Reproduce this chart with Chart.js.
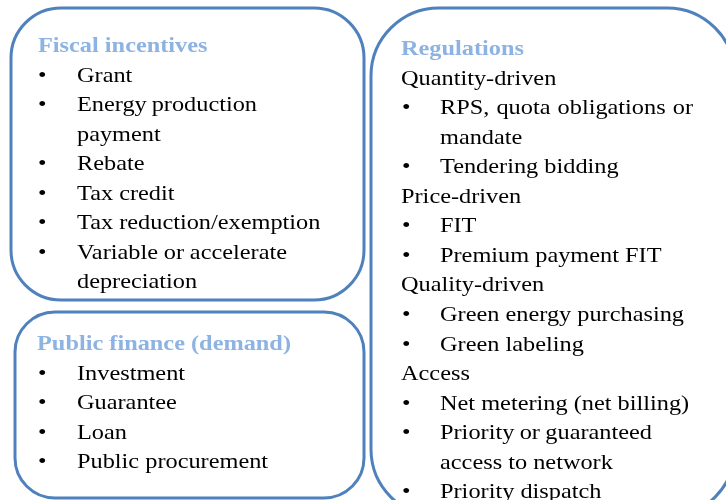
<!DOCTYPE html>
<html>
<head>
<meta charset="utf-8">
<script src="https://cdn.jsdelivr.net/npm/chart.js@4/dist/chart.umd.min.js"></script>
<style>
html,body{margin:0;padding:0;background:#fff;}
#wrap{width:726px;height:500px;}
</style>
</head>
<body>
<div id="wrap"><canvas id="c" width="726" height="500"></canvas></div>
<script>
// ---- content ----
const fiscalTitle = 'Fiscal incentives';
const fiscalItems = ['Grant', ['Energy production', 'payment'], 'Rebate', 'Tax credit', 'Tax reduction/exemption', ['Variable or accelerate', 'depreciation']];
const financeTitle = 'Public finance (demand)';
const financeItems = ['Investment', 'Guarantee', 'Loan', 'Public procurement'];
const regTitle = 'Regulations';
const regGroups = ['Quantity-driven', 'Price-driven', 'Quality-driven', 'Access'];
const regItems = [
  [['RPS, quota obligations or', 'mandate'], 'Tendering bidding'],
  ['FIT', 'Premium payment FIT'],
  ['Green energy purchasing', 'Green labeling'],
  ['Net metering (net billing)', ['Priority or guaranteed', 'access to network'], 'Priority dispatch']
];

// ---- layout (plot coordinates) ----
const BORDER = '#4F81BD';
const TITLE_COLOR = '#8DB3E2';
const FONT = '"Liberation Serif", "Times New Roman", serif';
const FS = 21;
const SX = 1.158;   // horizontal stretch of the text
const LINE = 29.55;
const boxes = [
  {x0: 11, y0: 8, x1: 364, y1: 300, r: 50},
  {x0: 15, y0: 312, x1: 364, y1: 498, r: 40},
  {x0: 371, y0: 8, x1: 735, y1: 517, r: 68}
];
// wrapped (justified) lines stretched to these right edges
const justifyTo = {'Energy production': 257, 'Variable or accelerate': 287, 'RPS, quota obligations or': 693, 'Priority or guaranteed': 652};

function put(ctx, s, px, py) {
  ctx.save();
  ctx.translate(px, py);
  ctx.scale(SX, 1);
  ctx.fillText(s, 0, 0);
  ctx.restore();
}

function drawLine(ctx, xs, ys, text, x, y) {
  const px = xs.getPixelForValue(x), py = ys.getPixelForValue(y);
  if (justifyTo[text] !== undefined) {
    const words = text.split(' ');
    const end = xs.getPixelForValue(justifyTo[text]);
    let total = 0;
    words.forEach(w => total += ctx.measureText(w).width * SX);
    const gap = (end - px - total) / (words.length - 1);
    let cx = px;
    words.forEach(w => { put(ctx, w, cx, py); cx += ctx.measureText(w).width * SX + gap; });
  } else {
    put(ctx, text, px, py);
  }
}

function drawList(ctx, xs, ys, items, bulletX, textX, startY) {
  let y = startY;
  items.forEach(it => {
    const lines = Array.isArray(it) ? it : [it];
    put(ctx, '\u2022', xs.getPixelForValue(bulletX), ys.getPixelForValue(y));
    lines.forEach(l => { drawLine(ctx, xs, ys, l, textX, y); y += LINE; });
  });
  return y;
}

const diagramPlugin = {
  id: 'diagram',
  afterDraw(chart) {
    const ctx = chart.ctx;
    const xs = chart.scales.x, ys = chart.scales.y;
    ctx.save();
    ctx.fillStyle = '#fff';
    ctx.fillRect(0, 0, chart.width, chart.height);
    // boxes
    ctx.strokeStyle = BORDER;
    ctx.lineWidth = 3;
    boxes.forEach(b => {
      const x0 = xs.getPixelForValue(b.x0), x1 = xs.getPixelForValue(b.x1);
      const y0 = ys.getPixelForValue(b.y0), y1 = ys.getPixelForValue(b.y1);
      ctx.beginPath();
      ctx.roundRect(x0, y0, x1 - x0, y1 - y0, b.r);
      ctx.stroke();
    });
    ctx.textBaseline = 'alphabetic';
    ctx.textAlign = 'left';
    // titles
    ctx.font = 'bold ' + FS + 'px ' + FONT;
    ctx.fillStyle = TITLE_COLOR;
    put(ctx, fiscalTitle, xs.getPixelForValue(38), ys.getPixelForValue(52));
    put(ctx, financeTitle, xs.getPixelForValue(37), ys.getPixelForValue(350));
    put(ctx, regTitle, xs.getPixelForValue(401), ys.getPixelForValue(55));
    // body
    ctx.font = FS + 'px ' + FONT;
    ctx.fillStyle = '#000';
    drawList(ctx, xs, ys, fiscalItems, 38, 77, 52 + LINE);
    drawList(ctx, xs, ys, financeItems, 38, 77, 350 + LINE);
    let y = 55 + LINE;
    regGroups.forEach((g, i) => {
      put(ctx, g, xs.getPixelForValue(401), ys.getPixelForValue(y));
      y += LINE;
      y = drawList(ctx, xs, ys, regItems[i], 402, 440, y);
    });
    ctx.restore();
  }
};

new Chart(document.getElementById('c'), {
  type: 'scatter',
  data: {datasets: []},
  options: {
    responsive: false,
    animation: false,
    layout: {padding: 0},
    plugins: {legend: {display: false}, tooltip: {enabled: false}},
    scales: {
      x: {type: 'linear', min: 0, max: 726, display: false},
      y: {type: 'linear', min: 0, max: 500, reverse: true, display: false}
    }
  },
  plugins: [diagramPlugin]
});
</script>
</body>
</html>
